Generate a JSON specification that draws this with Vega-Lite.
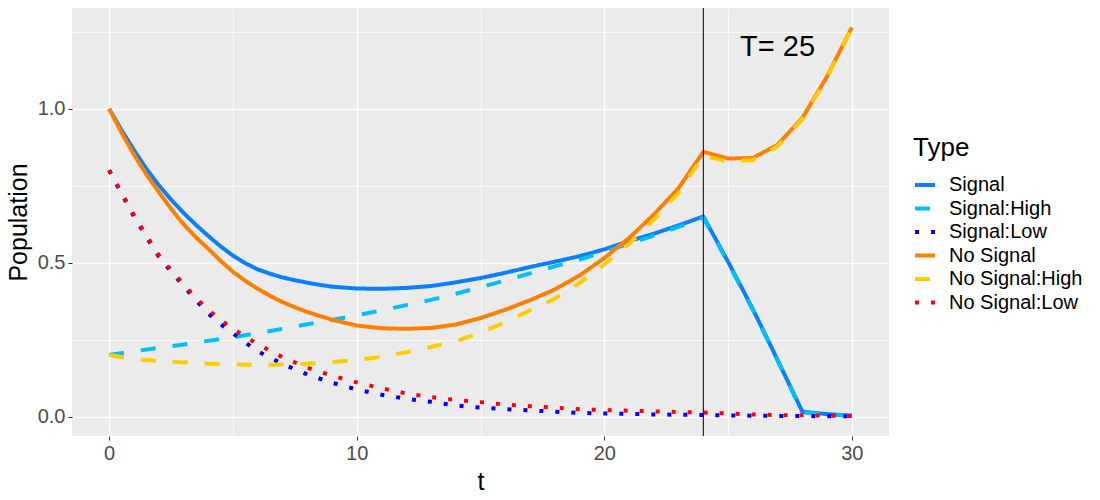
{
  "$schema": "https://vega.github.io/schema/vega-lite/v6.json",
  "width": 817,
  "height": 428,
  "autosize": {"type": "none"},
  "padding": {"left": 72, "top": 8, "right": 211, "bottom": 64},
  "background": "white",
  "config": {
    "font": "Liberation Sans",
    "view": {"fill": "#EBEBEB", "stroke": null},
    "legend": {
      "orient": "none",
      "legendX": 841,
      "legendY": 127,
      "padding": 0,
      "titleFontSize": 26,
      "titleFontWeight": "normal",
      "titleColor": "black",
      "titlePadding": 12,
      "labelFontSize": 20,
      "labelColor": "black",
      "symbolType": "stroke",
      "symbolSize": 400,
      "symbolStrokeWidth": 4,
      "labelOffset": 12,
      "rowPadding": 1.5
    }
  },
  "layer": [
    {
      "data": {
        "values": [
          {"t": 0, "Type": "Signal", "v": 1.000}, {"t": 0.5, "Type": "Signal", "v": 0.930}, {"t": 1, "Type": "Signal", "v": 0.866}, {"t": 1.5, "Type": "Signal", "v": 0.805}, {"t": 2, "Type": "Signal", "v": 0.752}, {"t": 2.5, "Type": "Signal", "v": 0.705}, {"t": 3, "Type": "Signal", "v": 0.662}, {"t": 3.5, "Type": "Signal", "v": 0.623}, {"t": 4, "Type": "Signal", "v": 0.587}, {"t": 4.5, "Type": "Signal", "v": 0.553}, {"t": 5, "Type": "Signal", "v": 0.523}, {"t": 5.5, "Type": "Signal", "v": 0.498}, {"t": 6, "Type": "Signal", "v": 0.478}, {"t": 6.5, "Type": "Signal", "v": 0.464}, {"t": 7, "Type": "Signal", "v": 0.452}, {"t": 7.5, "Type": "Signal", "v": 0.443}, {"t": 8, "Type": "Signal", "v": 0.435}, {"t": 8.5, "Type": "Signal", "v": 0.428}, {"t": 9, "Type": "Signal", "v": 0.422}, {"t": 9.5, "Type": "Signal", "v": 0.419}, {"t": 10, "Type": "Signal", "v": 0.416}, {"t": 11, "Type": "Signal", "v": 0.415}, {"t": 12, "Type": "Signal", "v": 0.418}, {"t": 13, "Type": "Signal", "v": 0.424}, {"t": 14, "Type": "Signal", "v": 0.436}, {"t": 15, "Type": "Signal", "v": 0.450}, {"t": 16, "Type": "Signal", "v": 0.467}, {"t": 17, "Type": "Signal", "v": 0.486}, {"t": 18, "Type": "Signal", "v": 0.503}, {"t": 19, "Type": "Signal", "v": 0.521}, {"t": 20, "Type": "Signal", "v": 0.543}, {"t": 21, "Type": "Signal", "v": 0.570}, {"t": 22, "Type": "Signal", "v": 0.594}, {"t": 23, "Type": "Signal", "v": 0.621}, {"t": 24, "Type": "Signal", "v": 0.650}, {"t": 25, "Type": "Signal", "v": 0.503}, {"t": 26, "Type": "Signal", "v": 0.349}, {"t": 27, "Type": "Signal", "v": 0.184}, {"t": 28, "Type": "Signal", "v": 0.016}, {"t": 29, "Type": "Signal", "v": 0.008}, {"t": 30, "Type": "Signal", "v": 0.003},
          {"t": 0, "Type": "Signal:High", "v": 0.200}, {"t": 1, "Type": "Signal:High", "v": 0.212}, {"t": 2, "Type": "Signal:High", "v": 0.223}, {"t": 3, "Type": "Signal:High", "v": 0.234}, {"t": 4, "Type": "Signal:High", "v": 0.246}, {"t": 5, "Type": "Signal:High", "v": 0.258}, {"t": 6, "Type": "Signal:High", "v": 0.271}, {"t": 7, "Type": "Signal:High", "v": 0.285}, {"t": 8, "Type": "Signal:High", "v": 0.300}, {"t": 9, "Type": "Signal:High", "v": 0.314}, {"t": 10, "Type": "Signal:High", "v": 0.329}, {"t": 11, "Type": "Signal:High", "v": 0.345}, {"t": 12, "Type": "Signal:High", "v": 0.362}, {"t": 13, "Type": "Signal:High", "v": 0.379}, {"t": 14, "Type": "Signal:High", "v": 0.399}, {"t": 15, "Type": "Signal:High", "v": 0.420}, {"t": 16, "Type": "Signal:High", "v": 0.442}, {"t": 17, "Type": "Signal:High", "v": 0.465}, {"t": 18, "Type": "Signal:High", "v": 0.488}, {"t": 19, "Type": "Signal:High", "v": 0.510}, {"t": 20, "Type": "Signal:High", "v": 0.534}, {"t": 21, "Type": "Signal:High", "v": 0.562}, {"t": 22, "Type": "Signal:High", "v": 0.588}, {"t": 23, "Type": "Signal:High", "v": 0.616}, {"t": 24, "Type": "Signal:High", "v": 0.646}, {"t": 25, "Type": "Signal:High", "v": 0.500}, {"t": 26, "Type": "Signal:High", "v": 0.346}, {"t": 27, "Type": "Signal:High", "v": 0.182}, {"t": 28, "Type": "Signal:High", "v": 0.014}, {"t": 29, "Type": "Signal:High", "v": 0.007}, {"t": 30, "Type": "Signal:High", "v": 0.002},
          {"t": 0, "Type": "Signal:Low", "v": 0.800}, {"t": 0.5, "Type": "Signal:Low", "v": 0.724}, {"t": 1, "Type": "Signal:Low", "v": 0.650}, {"t": 1.5, "Type": "Signal:Low", "v": 0.584}, {"t": 2, "Type": "Signal:Low", "v": 0.520}, {"t": 2.5, "Type": "Signal:Low", "v": 0.471}, {"t": 3, "Type": "Signal:Low", "v": 0.425}, {"t": 3.5, "Type": "Signal:Low", "v": 0.378}, {"t": 4, "Type": "Signal:Low", "v": 0.335}, {"t": 4.5, "Type": "Signal:Low", "v": 0.300}, {"t": 5, "Type": "Signal:Low", "v": 0.270}, {"t": 6, "Type": "Signal:Low", "v": 0.212}, {"t": 7, "Type": "Signal:Low", "v": 0.171}, {"t": 8, "Type": "Signal:Low", "v": 0.137}, {"t": 9, "Type": "Signal:Low", "v": 0.110}, {"t": 10, "Type": "Signal:Low", "v": 0.088}, {"t": 11, "Type": "Signal:Low", "v": 0.071}, {"t": 12, "Type": "Signal:Low", "v": 0.058}, {"t": 13, "Type": "Signal:Low", "v": 0.048}, {"t": 14, "Type": "Signal:Low", "v": 0.036}, {"t": 15, "Type": "Signal:Low", "v": 0.029}, {"t": 16, "Type": "Signal:Low", "v": 0.024}, {"t": 17, "Type": "Signal:Low", "v": 0.020}, {"t": 18, "Type": "Signal:Low", "v": 0.016}, {"t": 19, "Type": "Signal:Low", "v": 0.012}, {"t": 20, "Type": "Signal:Low", "v": 0.010}, {"t": 21, "Type": "Signal:Low", "v": 0.009}, {"t": 22, "Type": "Signal:Low", "v": 0.007}, {"t": 23, "Type": "Signal:Low", "v": 0.006}, {"t": 24, "Type": "Signal:Low", "v": 0.005}, {"t": 25, "Type": "Signal:Low", "v": 0.004}, {"t": 26, "Type": "Signal:Low", "v": 0.003}, {"t": 27, "Type": "Signal:Low", "v": 0.002}, {"t": 28, "Type": "Signal:Low", "v": 0.002}, {"t": 29, "Type": "Signal:Low", "v": 0.001}, {"t": 30, "Type": "Signal:Low", "v": 0.001},
          {"t": 0, "Type": "No Signal", "v": 1.000}, {"t": 0.5, "Type": "No Signal", "v": 0.922}, {"t": 1, "Type": "No Signal", "v": 0.851}, {"t": 1.5, "Type": "No Signal", "v": 0.787}, {"t": 2, "Type": "No Signal", "v": 0.730}, {"t": 2.5, "Type": "No Signal", "v": 0.675}, {"t": 3, "Type": "No Signal", "v": 0.625}, {"t": 3.5, "Type": "No Signal", "v": 0.583}, {"t": 4, "Type": "No Signal", "v": 0.545}, {"t": 4.5, "Type": "No Signal", "v": 0.506}, {"t": 5, "Type": "No Signal", "v": 0.470}, {"t": 5.5, "Type": "No Signal", "v": 0.441}, {"t": 6, "Type": "No Signal", "v": 0.415}, {"t": 6.5, "Type": "No Signal", "v": 0.392}, {"t": 7, "Type": "No Signal", "v": 0.372}, {"t": 7.5, "Type": "No Signal", "v": 0.355}, {"t": 8, "Type": "No Signal", "v": 0.340}, {"t": 8.5, "Type": "No Signal", "v": 0.327}, {"t": 9, "Type": "No Signal", "v": 0.315}, {"t": 9.5, "Type": "No Signal", "v": 0.305}, {"t": 10, "Type": "No Signal", "v": 0.296}, {"t": 11, "Type": "No Signal", "v": 0.287}, {"t": 12, "Type": "No Signal", "v": 0.285}, {"t": 13, "Type": "No Signal", "v": 0.288}, {"t": 14, "Type": "No Signal", "v": 0.299}, {"t": 15, "Type": "No Signal", "v": 0.320}, {"t": 16, "Type": "No Signal", "v": 0.347}, {"t": 17, "Type": "No Signal", "v": 0.378}, {"t": 18, "Type": "No Signal", "v": 0.413}, {"t": 19, "Type": "No Signal", "v": 0.458}, {"t": 20, "Type": "No Signal", "v": 0.515}, {"t": 21, "Type": "No Signal", "v": 0.580}, {"t": 22, "Type": "No Signal", "v": 0.656}, {"t": 23, "Type": "No Signal", "v": 0.742}, {"t": 24, "Type": "No Signal", "v": 0.860}, {"t": 25, "Type": "No Signal", "v": 0.838}, {"t": 26, "Type": "No Signal", "v": 0.840}, {"t": 27, "Type": "No Signal", "v": 0.883}, {"t": 28, "Type": "No Signal", "v": 0.970}, {"t": 29, "Type": "No Signal", "v": 1.105}, {"t": 30, "Type": "No Signal", "v": 1.264},
          {"t": 0, "Type": "No Signal:High", "v": 0.200}, {"t": 1, "Type": "No Signal:High", "v": 0.186}, {"t": 2, "Type": "No Signal:High", "v": 0.181}, {"t": 3, "Type": "No Signal:High", "v": 0.176}, {"t": 4, "Type": "No Signal:High", "v": 0.172}, {"t": 5, "Type": "No Signal:High", "v": 0.169}, {"t": 6, "Type": "No Signal:High", "v": 0.168}, {"t": 7, "Type": "No Signal:High", "v": 0.169}, {"t": 8, "Type": "No Signal:High", "v": 0.172}, {"t": 9, "Type": "No Signal:High", "v": 0.177}, {"t": 10, "Type": "No Signal:High", "v": 0.184}, {"t": 11, "Type": "No Signal:High", "v": 0.194}, {"t": 12, "Type": "No Signal:High", "v": 0.209}, {"t": 13, "Type": "No Signal:High", "v": 0.226}, {"t": 14, "Type": "No Signal:High", "v": 0.245}, {"t": 15, "Type": "No Signal:High", "v": 0.272}, {"t": 16, "Type": "No Signal:High", "v": 0.307}, {"t": 17, "Type": "No Signal:High", "v": 0.345}, {"t": 18, "Type": "No Signal:High", "v": 0.383}, {"t": 19, "Type": "No Signal:High", "v": 0.434}, {"t": 20, "Type": "No Signal:High", "v": 0.494}, {"t": 21, "Type": "No Signal:High", "v": 0.561}, {"t": 22, "Type": "No Signal:High", "v": 0.639}, {"t": 23, "Type": "No Signal:High", "v": 0.727}, {"t": 24, "Type": "No Signal:High", "v": 0.847}, {"t": 25, "Type": "No Signal:High", "v": 0.828}, {"t": 26, "Type": "No Signal:High", "v": 0.833}, {"t": 27, "Type": "No Signal:High", "v": 0.878}, {"t": 28, "Type": "No Signal:High", "v": 0.966}, {"t": 29, "Type": "No Signal:High", "v": 1.102}, {"t": 30, "Type": "No Signal:High", "v": 1.262},
          {"t": 0, "Type": "No Signal:Low", "v": 0.800}, {"t": 0.5, "Type": "No Signal:Low", "v": 0.727}, {"t": 1, "Type": "No Signal:Low", "v": 0.655}, {"t": 1.5, "Type": "No Signal:Low", "v": 0.588}, {"t": 2, "Type": "No Signal:Low", "v": 0.525}, {"t": 2.5, "Type": "No Signal:Low", "v": 0.476}, {"t": 3, "Type": "No Signal:Low", "v": 0.430}, {"t": 3.5, "Type": "No Signal:Low", "v": 0.386}, {"t": 4, "Type": "No Signal:Low", "v": 0.347}, {"t": 4.5, "Type": "No Signal:Low", "v": 0.314}, {"t": 5, "Type": "No Signal:Low", "v": 0.285}, {"t": 6, "Type": "No Signal:Low", "v": 0.235}, {"t": 7, "Type": "No Signal:Low", "v": 0.193}, {"t": 8, "Type": "No Signal:Low", "v": 0.159}, {"t": 9, "Type": "No Signal:Low", "v": 0.133}, {"t": 10, "Type": "No Signal:Low", "v": 0.111}, {"t": 11, "Type": "No Signal:Low", "v": 0.092}, {"t": 12, "Type": "No Signal:Low", "v": 0.075}, {"t": 13, "Type": "No Signal:Low", "v": 0.063}, {"t": 14, "Type": "No Signal:Low", "v": 0.054}, {"t": 15, "Type": "No Signal:Low", "v": 0.047}, {"t": 16, "Type": "No Signal:Low", "v": 0.039}, {"t": 17, "Type": "No Signal:Low", "v": 0.034}, {"t": 18, "Type": "No Signal:Low", "v": 0.029}, {"t": 19, "Type": "No Signal:Low", "v": 0.024}, {"t": 20, "Type": "No Signal:Low", "v": 0.021}, {"t": 21, "Type": "No Signal:Low", "v": 0.019}, {"t": 22, "Type": "No Signal:Low", "v": 0.017}, {"t": 23, "Type": "No Signal:Low", "v": 0.015}, {"t": 24, "Type": "No Signal:Low", "v": 0.013}, {"t": 25, "Type": "No Signal:Low", "v": 0.010}, {"t": 26, "Type": "No Signal:Low", "v": 0.007}, {"t": 27, "Type": "No Signal:Low", "v": 0.005}, {"t": 28, "Type": "No Signal:Low", "v": 0.004}, {"t": 29, "Type": "No Signal:Low", "v": 0.003}, {"t": 30, "Type": "No Signal:Low", "v": 0.002}
        ]
      },
      "mark": {"type": "line", "strokeWidth": 4, "strokeCap": "butt", "strokeJoin": "round", "clip": true},
      "encoding": {
        "x": {
          "field": "t", "type": "quantitative",
          "scale": {"domain": [-1.5, 31.5], "nice": false, "zero": false},
          "axis": {
            "values": [0, 5, 10, 15, 20, 25, 30],
            "labelExpr": "datum.value % 10 === 0 ? datum.label : ''",
            "labelOverlap": false,
            "domain": false,
            "grid": true,
            "gridColor": "white",
            "gridWidth": {"condition": {"test": "datum.value % 10 === 0", "value": 1.4}, "value": 0.7},
            "tickColor": "#333333",
            "tickOpacity": {"condition": {"test": "datum.value % 10 === 0", "value": 1}, "value": 0},
            "tickSize": 4,
            "tickWidth": 1,
            "labelFontSize": 20,
            "labelColor": "#4D4D4D",
            "labelPadding": 3,
            "title": "t",
            "titleFontSize": 25,
            "titleFontWeight": "normal",
            "titleColor": "black",
            "titlePadding": 6
          }
        },
        "y": {
          "field": "v", "type": "quantitative",
          "scale": {"domain": [-0.063, 1.327], "nice": false, "zero": false},
          "axis": {
            "values": [0, 0.25, 0.5, 0.75, 1, 1.25],
            "format": ".1f",
            "labelExpr": "(datum.value * 2) % 1 === 0 ? datum.label : ''",
            "labelOverlap": false,
            "domain": false,
            "grid": true,
            "gridColor": "white",
            "gridWidth": {"condition": {"test": "(datum.value * 2) % 1 === 0", "value": 1.4}, "value": 0.7},
            "tickColor": "#333333",
            "tickOpacity": {"condition": {"test": "(datum.value * 2) % 1 === 0", "value": 1}, "value": 0},
            "tickSize": 4,
            "tickWidth": 1,
            "labelFontSize": 20,
            "labelColor": "#4D4D4D",
            "labelPadding": 3,
            "title": "Population",
            "titleFontSize": 25,
            "titleFontWeight": "normal",
            "titleColor": "black",
            "titlePadding": 6
          }
        },
        "color": {
          "field": "Type", "type": "nominal", "title": "Type",
          "scale": {
            "domain": ["Signal", "Signal:High", "Signal:Low", "No Signal", "No Signal:High", "No Signal:Low"],
            "range": ["#0A80FF", "#00BFFF", "#0000FF", "#FF8000", "#FFCC00", "#FF0000"]
          }
        },
        "strokeDash": {
          "field": "Type", "type": "nominal", "title": "Type",
          "scale": {
            "domain": ["Signal", "Signal:High", "Signal:Low", "No Signal", "No Signal:High", "No Signal:Low"],
            "range": [[1, 0], [15, 17], [4, 12], [1, 0], [15, 17], [4, 12]]
          }
        }
      }
    },
    {
      "data": {"values": [{"t": 24}]},
      "mark": {"type": "rule", "color": "black", "strokeWidth": 1},
      "encoding": {"x": {"field": "t", "type": "quantitative"}}
    },
    {
      "data": {"values": [{"t": 27, "v": 1.2, "label": "T= 25"}]},
      "mark": {"type": "text", "fontSize": 29, "align": "center", "baseline": "middle", "color": "black"},
      "encoding": {
        "x": {"field": "t", "type": "quantitative"},
        "y": {"field": "v", "type": "quantitative"},
        "text": {"field": "label"}
      }
    }
  ]
}
